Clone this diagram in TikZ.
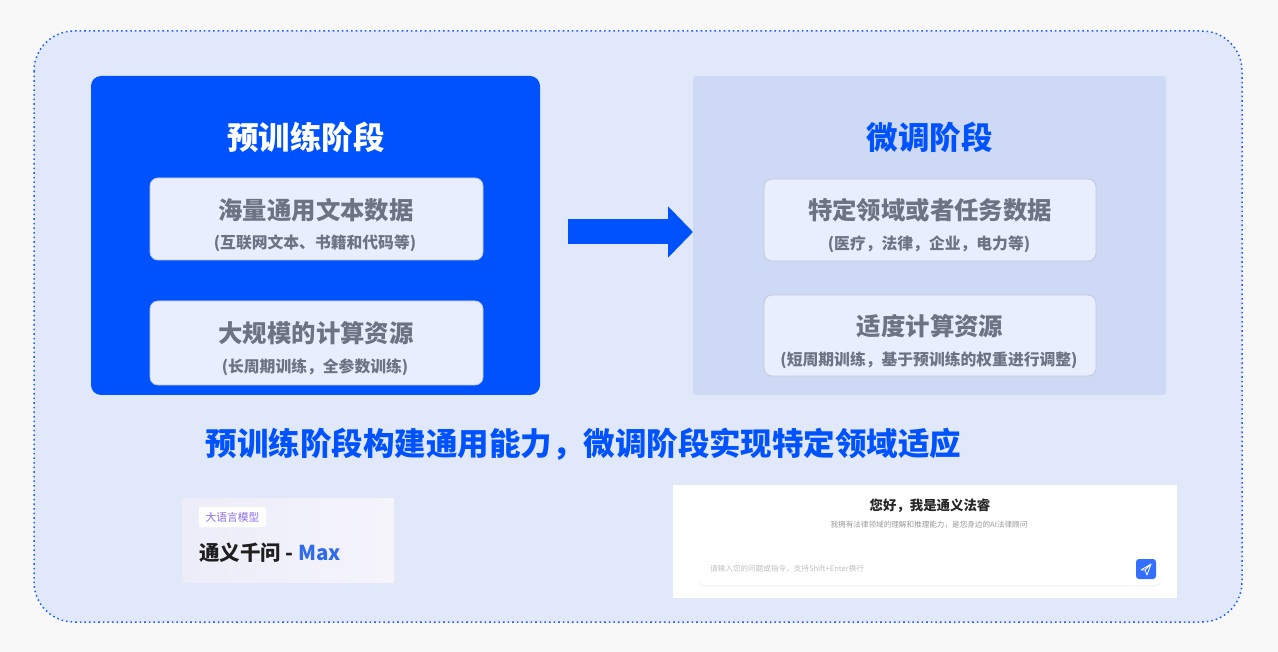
\documentclass[tikz,border=0pt]{standalone}
\usepackage{fontspec}
\setmainfont{Noto Sans CJK SC}
\newfontfamily\heavy{Noto Sans CJK SC Black}
\usepackage{tikz}
\usetikzlibrary{positioning,arrows.meta,shadows}
\definecolor{bgc}{HTML}{F8F8F9}
\definecolor{framec}{HTML}{E1E8FA}
\definecolor{dotc}{HTML}{1E5EFF}
\definecolor{mainblue}{HTML}{0052FF}
\definecolor{lightc}{HTML}{CDD9F5}
\definecolor{cardc}{HTML}{E8EEFD}
\definecolor{cardline}{HTML}{BFC8DD}
\definecolor{greyc}{HTML}{6E7383}
\definecolor{tagc}{HTML}{8A6CF0}
\definecolor{maxc}{HTML}{2F6BEA}
\definecolor{sendc}{HTML}{3370FF}
\definecolor{shotl}{HTML}{ECEDF9}
\definecolor{shotr}{HTML}{F5F4FB}
\begin{document}
\begin{tikzpicture}[x=1pt, y=-1pt,
  stage/.style = {minimum width=449pt, minimum height=319pt, inner sep=0pt},
  card/.style = {draw=cardline, fill=cardc, rounded corners=8pt, line width=0.8pt, minimum width=333pt, minimum height=82pt, inner sep=0pt},
  title/.style = {font=\fontsize{31.5}{36}\selectfont\heavy, inner sep=0pt},
  head/.style = {text=greyc, font=\fontsize{24.4}{28}\selectfont\heavy, inner sep=0pt},
  sub/.style = {text=greyc, font=\fontsize{15.8}{18}\selectfont\bfseries, inner sep=0pt},
  flow/.style = {mainblue, line width=25pt, -{Triangle[length=25pt, width=50pt]}}]
\useasboundingbox[fill=bgc] (0,0) rectangle (1278,652);
\draw[dotc, fill=framec, line width=1.5pt, dash pattern=on 1.6pt off 3pt, rounded corners=40pt] (34,31) rectangle (1242,622);

\node[stage, fill=mainblue, rounded corners=10pt] (pre) at (315.5,235.5) {};
\node[title, text=white] (pret) at (306,137) {预训练阶段};
\node[card] (p1) at (316.5,219) {};
\node[head] (p1t) at (316,210) {海量通用文本数据};
\node[sub] (p1s) at (315,243) {(互联网文本、书籍和代码等)};
\node[card, minimum height=84pt] (p2) at (316.5,343) {};
\node[head] (p2t) at (316,333) {大规模的计算资源};
\node[sub] (p2s) at (315,367) {(长周期训练，全参数训练)};

\node[stage, minimum width=473pt, fill=lightc, rounded corners=3pt] (ft) at (929.5,235.5) {};
\node[title, text=mainblue] (ftt) at (929.5,137) {微调阶段};
\node[card, minimum width=332pt] (f1) at (930,220) {};
\node[head] (f1t) at (930,210) {特定领域或者任务数据};
\node[sub] (f1s) at (929,244) {(医疗，法律，企业，电力等)};
\node[card, minimum width=332pt, minimum height=81pt] (f2) at (930,335.5) {};
\node[head] (f2t) at (930,326) {适度计算资源};
\node[sub] (f2s) at (929,360) {(短周期训练，基于预训练的权重进行调整)};

\coordinate (s) at (568,232);
\coordinate (t) at (693,232);
\draw[flow] (s) -- (t);

\node[title, text=mainblue] (sum) at (583.5,444) {预训练阶段构建通用能力，微调阶段实现特定领域适应};

\node[minimum width=212pt, minimum height=84pt, inner sep=0pt, left color=shotl, right color=shotr] (qw) at (288,540) {};
\node[fill=white, rounded corners=2pt, minimum width=67pt, minimum height=20pt, inner sep=0pt, text=tagc, font=\fontsize{10.8}{12}\selectfont] (tag) at (232.5,517) {大语言模型};
\node[anchor=west, inner sep=0pt, font=\fontsize{20.5}{24}\selectfont\bfseries, text=black!88] (qwn) at (199,553) {通义千问 - \textcolor{maxc}{Max}};

\node[fill=white, minimum width=504pt, minimum height=113pt, inner sep=0pt] (law) at (925,541.5) {};
\node[inner sep=0pt, font=\fontsize{13.4}{16}\selectfont\bfseries, text=black!85] (lawt) at (930,506) {您好，我是通义法睿};
\node[inner sep=0pt, font=\fontsize{7.6}{9}\selectfont, text=black!40] (laws) at (929,525) {我拥有法律领域的理解和推理能力，是您身边的AI法律顾问};
\node[fill=white, rounded corners=6pt, minimum width=463pt, minimum height=31pt, inner sep=0pt, drop shadow={opacity=0.09, shadow xshift=0pt, shadow yshift=-1.5pt}] (ask) at (929.5,569.5) {};
\node[anchor=west, inner sep=0pt, font=\fontsize{7.6}{9}\selectfont, text=black!25] (askt) at (710,569) {请输入您的问题或指令，支持Shift+Enter换行};
\node[fill=sendc, rounded corners=3pt, minimum size=20pt, inner sep=0pt] (send) at (1146,569) {};
\draw[white, line width=0.8pt, line join=round] (1141,570) -- (1151,564) -- (1147,575) -- (1145,570) -- cycle (1145,570) -- (1151,564);
\end{tikzpicture}
\end{document}
